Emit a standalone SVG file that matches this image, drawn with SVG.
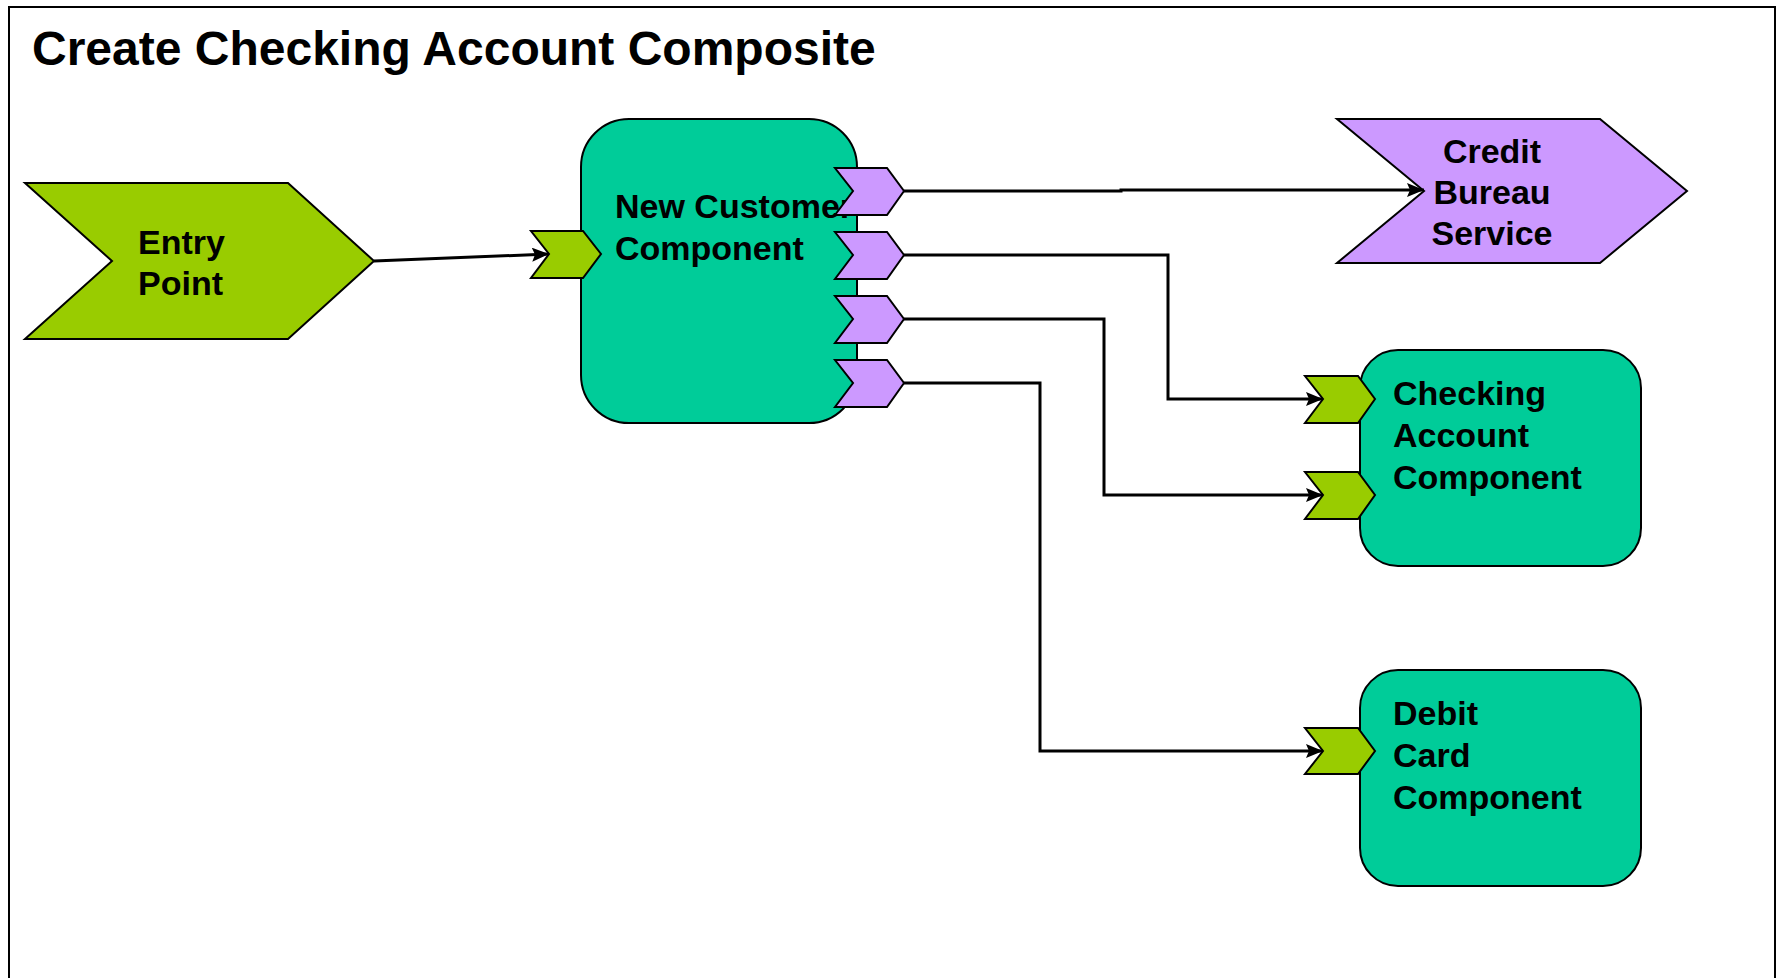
<svg xmlns="http://www.w3.org/2000/svg" width="1779" height="978" viewBox="0 0 1779 978">
<style>
.lbl{font-family:"Liberation Sans",Arial,sans-serif;font-weight:bold;font-size:34px;fill:#000}
.title{font-family:"Liberation Sans",Arial,sans-serif;font-weight:bold;font-size:48px;fill:#000}
.comp{fill:#00CC99;stroke:#000;stroke-width:2}
.green{fill:#99CC00;stroke:#000;stroke-width:2;stroke-linejoin:miter}
.purple{fill:#CC99FF;stroke:#000;stroke-width:2;stroke-linejoin:miter}
.conn{fill:none;stroke:#000;stroke-width:3}
</style>
<defs>
<marker id="arr" markerWidth="17" markerHeight="14" refX="17" refY="7" orient="auto" markerUnits="userSpaceOnUse">
<path d="M0,0 L17,7 L0,14 L3,7 z" fill="#000"/>
</marker>
</defs>
<rect x="0" y="0" width="1779" height="978" fill="#fff"/>
<rect x="9" y="7" width="1766" height="1000" fill="none" stroke="#000" stroke-width="2"/>
<text class="title" x="32" y="65">Create Checking Account Composite</text>

<g id="entry-point">
<polygon class="green" points="25,183 288,183 374,261 288,339 25,339 112,261"/>
<text class="lbl" x="138" y="254">Entry</text>
<text class="lbl" x="138" y="295">Point</text>
</g>

<g id="new-customer-component">
<rect class="comp" x="581" y="119" width="276" height="304" rx="48" ry="48"/>
<text class="lbl" x="615" y="218">New Customer</text>
<text class="lbl" x="615" y="260">Component</text>
<polygon class="green" points="531,231 583,231 601,254 583,278 531,278 549,254"/>
<polygon class="purple" points="835,168 887,168 904,191 887,215 835,215 853,191"/>
<polygon class="purple" points="835,232 887,232 904,255 887,279 835,279 853,255"/>
<polygon class="purple" points="835,296 887,296 904,319 887,343 835,343 853,319"/>
<polygon class="purple" points="835,360 887,360 904,383 887,407 835,407 853,383"/>
</g>

<g id="credit-bureau-service">
<polygon class="purple" points="1337,119 1600,119 1687,191 1600,263 1337,263 1424,191"/>
<text class="lbl" x="1492" y="163" text-anchor="middle">Credit</text>
<text class="lbl" x="1492" y="204" text-anchor="middle">Bureau</text>
<text class="lbl" x="1492" y="245" text-anchor="middle">Service</text>
</g>

<g id="checking-account-component">
<rect class="comp" x="1360" y="350" width="281" height="216" rx="38" ry="38"/>
<text class="lbl" x="1393" y="405">Checking</text>
<text class="lbl" x="1393" y="447">Account</text>
<text class="lbl" x="1393" y="489">Component</text>
<polygon class="green" points="1305,376 1358,376 1375,399 1358,423 1305,423 1323,399"/>
<polygon class="green" points="1305,472 1358,472 1375,495 1358,519 1305,519 1323,495"/>
</g>

<g id="debit-card-component">
<rect class="comp" x="1360" y="670" width="281" height="216" rx="38" ry="38"/>
<text class="lbl" x="1393" y="725">Debit</text>
<text class="lbl" x="1393" y="767">Card</text>
<text class="lbl" x="1393" y="809">Component</text>
<polygon class="green" points="1305,728 1358,728 1375,751 1358,774 1305,774 1323,751"/>
</g>

<g id="connectors">
<path class="conn" d="M374,261 L549,254" marker-end="url(#arr)"/>
<path class="conn" d="M904,191 H1121 V190 H1424" marker-end="url(#arr)"/>
<path class="conn" d="M904,255 H1168 V399 H1323" marker-end="url(#arr)"/>
<path class="conn" d="M904,319 H1104 V495 H1323" marker-end="url(#arr)"/>
<path class="conn" d="M904,383 H1040 V751 H1323" marker-end="url(#arr)"/>
</g>
</svg>
